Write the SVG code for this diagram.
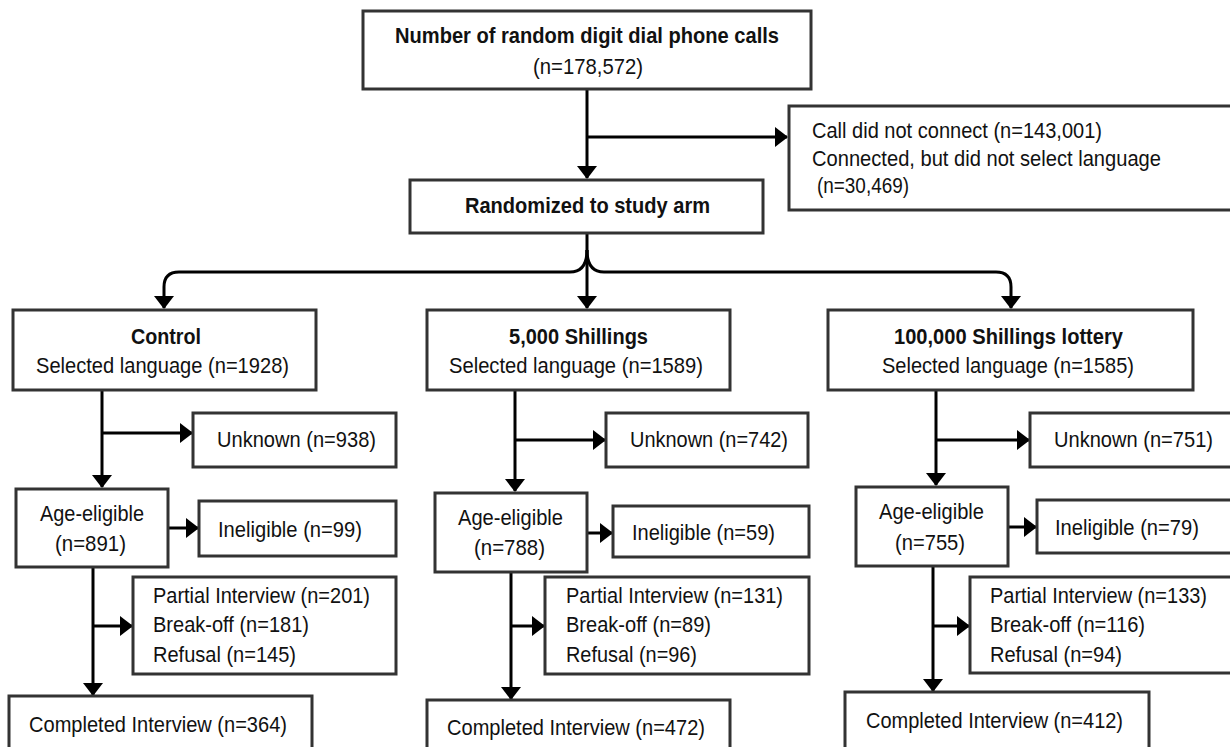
<svg xmlns="http://www.w3.org/2000/svg" width="1230" height="747" viewBox="0 0 1230 747">
<defs>
<style>
.box{fill:#fff;stroke:#333;stroke-width:3}
.ln{fill:none;stroke:#000;stroke-width:3}
text{font-family:"Liberation Sans",Arial,sans-serif;font-size:22px;fill:#111}
.b{font-weight:bold}
</style>
<marker id="ah" markerUnits="userSpaceOnUse" markerWidth="13" markerHeight="20" refX="12" refY="10" orient="auto" viewBox="0 0 13 20">
<path d="M0,0 L13,10 L0,20 z" fill="#000"/>
</marker>
</defs>
<rect width="1230" height="747" fill="#fff"/>

<g id="connectors">
<path class="ln" d="M587,89 L587,178" marker-end="url(#ah)"/>
<path class="ln" d="M587,137 L787,137" marker-end="url(#ah)"/>
<path class="ln" d="M587,233 L587,308" marker-end="url(#ah)"/>
<path class="ln" d="M587,250 Q587,272 570,272 L179,272 Q164,272 164,287 L164,308" marker-end="url(#ah)"/>
<path class="ln" d="M587,250 Q587,272 604,272 L996,272 Q1011,272 1011,287 L1011,308" marker-end="url(#ah)"/>

<path class="ln" d="M102,390 L102,487" marker-end="url(#ah)"/>
<path class="ln" d="M102,433 L192,433" marker-end="url(#ah)"/>
<path class="ln" d="M168,528 L198,528" marker-end="url(#ah)"/>
<path class="ln" d="M93,567 L93,695" marker-end="url(#ah)"/>
<path class="ln" d="M93,626 L132,626" marker-end="url(#ah)"/>

<path class="ln" d="M515,390 L515,491" marker-end="url(#ah)"/>
<path class="ln" d="M515,440 L605,440" marker-end="url(#ah)"/>
<path class="ln" d="M587,533 L612,533" marker-end="url(#ah)"/>
<path class="ln" d="M511,572 L511,699" marker-end="url(#ah)"/>
<path class="ln" d="M511,626 L544,626" marker-end="url(#ah)"/>

<path class="ln" d="M936,390 L936,485" marker-end="url(#ah)"/>
<path class="ln" d="M936,440 L1029,440" marker-end="url(#ah)"/>
<path class="ln" d="M1008,527 L1036,527" marker-end="url(#ah)"/>
<path class="ln" d="M933,566 L933,691" marker-end="url(#ah)"/>
<path class="ln" d="M933,626 L969,626" marker-end="url(#ah)"/>
</g>

<g id="n-calls">
<rect class="box" x="363" y="11" width="448" height="78"/>
<text class="b" x="395" y="43" textLength="384" lengthAdjust="spacingAndGlyphs">Number of random digit dial phone calls</text>
<text x="533" y="74" textLength="110" lengthAdjust="spacingAndGlyphs">(n=178,572)</text>
</g>

<g id="n-excluded">
<rect class="box" x="789" y="106" width="450" height="104"/>
<text x="812" y="138" textLength="290" lengthAdjust="spacingAndGlyphs">Call did not connect (n=143,001)</text>
<text x="812" y="166" textLength="349" lengthAdjust="spacingAndGlyphs">Connected, but did not select language</text>
<text x="817" y="193" textLength="92" lengthAdjust="spacingAndGlyphs">(n=30,469)</text>
</g>

<g id="n-randomized">
<rect class="box" x="410" y="180" width="353" height="53"/>
<text class="b" x="465" y="213" textLength="245" lengthAdjust="spacingAndGlyphs">Randomized to study arm</text>
</g>

<g id="n-control">
<rect class="box" x="13" y="310" width="303" height="80"/>
<text class="b" x="131" y="344" textLength="70" lengthAdjust="spacingAndGlyphs">Control</text>
<text x="36" y="373" textLength="253" lengthAdjust="spacingAndGlyphs">Selected language (n=1928)</text>
</g>

<g id="n-5000">
<rect class="box" x="427" y="310" width="303" height="80"/>
<text class="b" x="509" y="344" textLength="139" lengthAdjust="spacingAndGlyphs">5,000 Shillings</text>
<text x="449" y="373" textLength="254" lengthAdjust="spacingAndGlyphs">Selected language (n=1589)</text>
</g>

<g id="n-100000">
<rect class="box" x="828" y="310" width="365" height="80"/>
<text class="b" x="894" y="344" textLength="229" lengthAdjust="spacingAndGlyphs">100,000 Shillings lottery</text>
<text x="882" y="373" textLength="252" lengthAdjust="spacingAndGlyphs">Selected language (n=1585)</text>
</g>

<g id="n-c-unknown">
<rect class="box" x="193" y="413" width="203" height="54"/>
<text x="217" y="447" textLength="159" lengthAdjust="spacingAndGlyphs">Unknown (n=938)</text>
</g>
<g id="n-c-age">
<rect class="box" x="16" y="489" width="152" height="78"/>
<text x="40" y="521" textLength="104" lengthAdjust="spacingAndGlyphs">Age-eligible</text>
<text x="55" y="551" textLength="71" lengthAdjust="spacingAndGlyphs">(n=891)</text>
</g>
<g id="n-c-inel">
<rect class="box" x="199" y="501" width="197" height="55"/>
<text x="218" y="537" textLength="144" lengthAdjust="spacingAndGlyphs">Ineligible (n=99)</text>
</g>
<g id="n-c-partial">
<rect class="box" x="133" y="577" width="263" height="97"/>
<text x="153" y="603" textLength="217" lengthAdjust="spacingAndGlyphs">Partial Interview (n=201)</text>
<text x="153" y="632" textLength="156" lengthAdjust="spacingAndGlyphs">Break-off (n=181)</text>
<text x="153" y="662" textLength="143" lengthAdjust="spacingAndGlyphs">Refusal (n=145)</text>
</g>
<g id="n-c-complete">
<rect class="box" x="9" y="696" width="303" height="70"/>
<text x="29" y="732" textLength="258" lengthAdjust="spacingAndGlyphs">Completed Interview (n=364)</text>
</g>

<g id="n-5-unknown">
<rect class="box" x="606" y="413" width="202" height="54"/>
<text x="630" y="447" textLength="158" lengthAdjust="spacingAndGlyphs">Unknown (n=742)</text>
</g>
<g id="n-5-age">
<rect class="box" x="435" y="493" width="152" height="79"/>
<text x="458" y="525" textLength="105" lengthAdjust="spacingAndGlyphs">Age-eligible</text>
<text x="474" y="555" textLength="71" lengthAdjust="spacingAndGlyphs">(n=788)</text>
</g>
<g id="n-5-inel">
<rect class="box" x="613" y="506" width="196" height="51"/>
<text x="632" y="540" textLength="143" lengthAdjust="spacingAndGlyphs">Ineligible (n=59)</text>
</g>
<g id="n-5-partial">
<rect class="box" x="545" y="577" width="264" height="97"/>
<text x="566" y="603" textLength="217" lengthAdjust="spacingAndGlyphs">Partial Interview (n=131)</text>
<text x="566" y="632" textLength="145" lengthAdjust="spacingAndGlyphs">Break-off (n=89)</text>
<text x="566" y="662" textLength="131" lengthAdjust="spacingAndGlyphs">Refusal (n=96)</text>
</g>
<g id="n-5-complete">
<rect class="box" x="427" y="700" width="303" height="70"/>
<text x="447" y="735" textLength="258" lengthAdjust="spacingAndGlyphs">Completed Interview (n=472)</text>
</g>

<g id="n-l-unknown">
<rect class="box" x="1030" y="413" width="210" height="54"/>
<text x="1054" y="447" textLength="159" lengthAdjust="spacingAndGlyphs">Unknown (n=751)</text>
</g>
<g id="n-l-age">
<rect class="box" x="856" y="487" width="152" height="79"/>
<text x="879" y="519" textLength="105" lengthAdjust="spacingAndGlyphs">Age-eligible</text>
<text x="895" y="550" textLength="70" lengthAdjust="spacingAndGlyphs">(n=755)</text>
</g>
<g id="n-l-inel">
<rect class="box" x="1037" y="500" width="203" height="53"/>
<text x="1055" y="535" textLength="144" lengthAdjust="spacingAndGlyphs">Ineligible (n=79)</text>
</g>
<g id="n-l-partial">
<rect class="box" x="970" y="577" width="270" height="96"/>
<text x="990" y="603" textLength="217" lengthAdjust="spacingAndGlyphs">Partial Interview (n=133)</text>
<text x="990" y="632" textLength="155" lengthAdjust="spacingAndGlyphs">Break-off (n=116)</text>
<text x="990" y="662" textLength="132" lengthAdjust="spacingAndGlyphs">Refusal (n=94)</text>
</g>
<g id="n-l-complete">
<rect class="box" x="845" y="692" width="304" height="70"/>
<text x="866" y="728" textLength="257" lengthAdjust="spacingAndGlyphs">Completed Interview (n=412)</text>
</g>
</svg>
